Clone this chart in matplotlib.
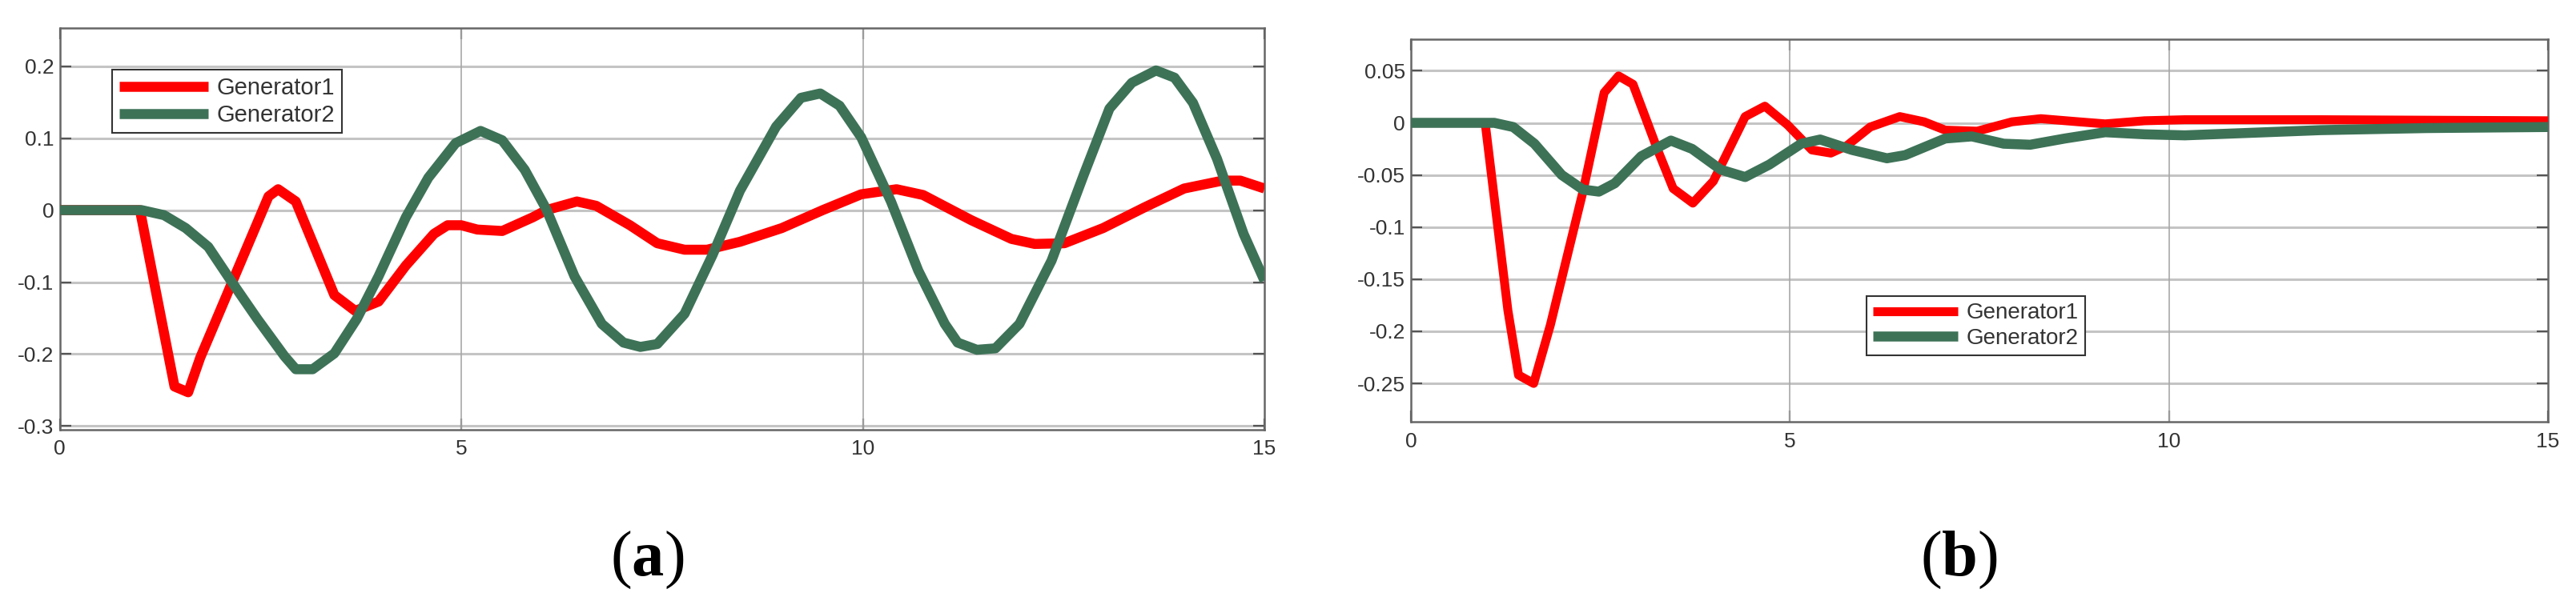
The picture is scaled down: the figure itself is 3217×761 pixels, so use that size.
import matplotlib
matplotlib.use("Agg")
import matplotlib.pyplot as plt
from matplotlib.ticker import FixedLocator, FixedFormatter

plt.rcParams['axes.unicode_minus'] = False
plt.rcParams['mathtext.fontset'] = 'custom'
plt.rcParams['mathtext.rm'] = 'Liberation Serif'
plt.rcParams['mathtext.bf'] = 'Liberation Serif:bold'

# ---------------- data ----------------
series_names = ["Generator1", "Generator2"]

# Panel (a)
a_t1 = [0, 1.0, 1.43, 1.6, 1.75, 2.6, 2.72, 2.94, 3.42, 3.68, 3.97, 4.31, 4.66, 4.83, 5.0, 5.2,
        5.51, 5.89, 6.06, 6.44, 6.68, 7.1, 7.44, 7.78, 8.06, 8.47, 8.99, 9.5, 9.98, 10.42,
        10.75, 11.35, 11.85, 12.14, 12.51, 12.99, 13.51, 14.0, 14.48, 14.7, 15.0]
a_g1 = [0, 0, -0.245, -0.253, -0.205, 0.019, 0.029, 0.012, -0.118, -0.140, -0.127, -0.077, -0.033,
        -0.021, -0.021, -0.027, -0.029, -0.010, 0.0, 0.012, 0.006, -0.021, -0.046, -0.055, -0.055,
        -0.044, -0.025, 0.0, 0.022, 0.029, 0.021, -0.014, -0.040, -0.047, -0.046, -0.025, 0.004,
        0.030, 0.041, 0.041, 0.030]
a_t2 = [0, 1.02, 1.3, 1.57, 1.85, 2.12, 2.46, 2.8, 2.94, 3.15, 3.42, 3.7, 3.97, 4.31, 4.59, 4.93,
        5.24, 5.51, 5.79, 6.06, 6.41, 6.75, 7.02, 7.23, 7.44, 7.78, 8.13, 8.47, 8.92, 9.23, 9.47,
        9.71, 9.98, 10.35, 10.69, 11.02, 11.18, 11.42, 11.65, 11.95, 12.35, 12.75, 13.07, 13.35,
        13.65, 13.88, 14.11, 14.41, 14.74, 15.0]
a_g2 = [0, 0, -0.007, -0.025, -0.051, -0.096, -0.151, -0.203, -0.221, -0.221, -0.199, -0.151,
        -0.092, -0.010, 0.045, 0.093, 0.110, 0.097, 0.056, 0.001, -0.092, -0.158, -0.184, -0.190,
        -0.186, -0.144, -0.062, 0.027, 0.116, 0.156, 0.162, 0.145, 0.101, 0.012, -0.084, -0.158,
        -0.184, -0.194, -0.192, -0.158, -0.070, 0.049, 0.141, 0.177, 0.194, 0.184, 0.149, 0.071,
        -0.033, -0.098]

# Panel (b)
b_t1 = [0, 0.98, 1.28, 1.42, 1.62, 1.84, 2.27, 2.55, 2.74, 2.93, 3.25, 3.46, 3.72, 3.99, 4.41,
        4.67, 4.97, 5.29, 5.54, 5.75, 6.06, 6.45, 6.77, 7.05, 7.47, 7.93, 8.31, 8.81, 9.16, 9.68,
        10.21, 12.0, 15.0]
b_g1 = [0, 0, -0.180, -0.242, -0.250, -0.194, -0.066, 0.029, 0.045, 0.037, -0.025, -0.063, -0.077,
        -0.056, 0.006, 0.016, -0.002, -0.026, -0.029, -0.022, -0.004, 0.006, 0.001, -0.007, -0.008,
        0.001, 0.004, 0.001, -0.001, 0.002, 0.003, 0.003, 0.002]
b_t2 = [0, 1.1, 1.35, 1.63, 1.99, 2.27, 2.48, 2.69, 3.04, 3.43, 3.71, 4.09, 4.41, 4.73, 5.15, 5.4,
        5.82, 6.28, 6.52, 7.05, 7.4, 7.82, 8.17, 8.63, 9.16, 9.68, 10.21, 12.0, 13.4, 15.0]
b_g2 = [0, 0, -0.004, -0.020, -0.050, -0.064, -0.066, -0.058, -0.032, -0.017, -0.025, -0.045,
        -0.052, -0.040, -0.020, -0.016, -0.026, -0.034, -0.031, -0.015, -0.013, -0.020, -0.021,
        -0.015, -0.009, -0.011, -0.012, -0.007, -0.005, -0.004]

x_ticks = [0, 5, 10, 15]
x_ticklabels = ["0", "5", "10", "15"]
a_yticks = [-0.3, -0.2, -0.1, 0, 0.1, 0.2]
a_yticklabels = ["-0.3", "-0.2", "-0.1", "0", "0.1", "0.2"]
b_yticks = [-0.25, -0.2, -0.15, -0.1, -0.05, 0, 0.05]
b_yticklabels = ["-0.25", "-0.2", "-0.15", "-0.1", "-0.05", "0", "0.05"]
captions = ["a", "b"]

# ---------------- style ----------------
RED = "#ff0000"
GREEN = "#3d7257"
SANS = ["Liberation Sans", "DejaVu Sans"]

fig = plt.figure(figsize=(32.17, 7.61), dpi=100)

ax_a = fig.add_axes([0.02316, 0.2944, 0.4677, 0.6597])
ax_b = fig.add_axes([0.5477, 0.3071, 0.4414, 0.6281])


def style_axes(ax, yticks, yticklabels, ylim, lw):
    ax.set_xlim(0, 15)
    ax.set_ylim(*ylim)
    ax.xaxis.set_major_locator(FixedLocator(x_ticks))
    ax.xaxis.set_major_formatter(FixedFormatter(x_ticklabels))
    ax.yaxis.set_major_locator(FixedLocator(yticks))
    ax.yaxis.set_major_formatter(FixedFormatter(yticklabels))
    for s in ax.spines.values():
        s.set_color("#666666")
        s.set_linewidth(1.8)
    ax.tick_params(direction="in", length=10, width=1.6, color="#555555",
                   top=True, right=True, labelsize=19, labelcolor="#333333")
    ax.tick_params(axis="x", pad=9)
    ax.tick_params(axis="y", pad=5)
    for lab in ax.get_xticklabels() + ax.get_yticklabels():
        lab.set_family(SANS)
    for y in yticks:
        ax.axhline(y, color="#c4c4c4", lw=2.2, zorder=0.5)
    for x in x_ticks[1:-1]:
        ax.axvline(x, color="#a8a8a8", lw=1.2, zorder=0.6)
    ax.set_axisbelow(True)


style_axes(ax_a, a_yticks, a_yticklabels, (-0.305, 0.253), 9)
style_axes(ax_b, b_yticks, b_yticklabels, (-0.287, 0.08), 9)

la1, = ax_a.plot(a_t1, a_g1, color=RED, lw=9, solid_joinstyle="round", solid_capstyle="butt",
                 label=series_names[0], zorder=3)
la2, = ax_a.plot(a_t2, a_g2, color=GREEN, lw=9, solid_joinstyle="round", solid_capstyle="butt",
                 label=series_names[1], zorder=4)
lb1, = ax_b.plot(b_t1, b_g1, color=RED, lw=8, solid_joinstyle="round", solid_capstyle="butt",
                 label=series_names[0], zorder=3)
lb2, = ax_b.plot(b_t2, b_g2, color=GREEN, lw=9, solid_joinstyle="round", solid_capstyle="butt",
                 label=series_names[1], zorder=4)

for ax, anchor, fs in [(ax_a, (0.0435, 0.896), 21), (ax_b, (0.4007, 0.329), 20)]:
    leg = ax.legend(loc="upper left", bbox_to_anchor=anchor, borderaxespad=0,
                    fancybox=False, shadow=False, framealpha=1,
                    prop={"family": SANS, "size": fs},
                    handlelength=3.8, handletextpad=0.38, labelspacing=0.2,
                    borderpad=0.3)
    leg.get_frame().set_edgecolor("#333333")
    leg.get_frame().set_linewidth(1.5)
    for t in leg.get_texts():
        t.set_color("#333333")

fig.text(808 / 3217, 1 - 699 / 761, r"$(\mathbf{%s})$" % captions[0], ha="center", va="center",
         fontsize=58)
fig.text(2446 / 3217, 1 - 699 / 761, r"$(\mathbf{%s})$" % captions[1], ha="center", va="center",
         fontsize=58)

fig.savefig("out.png", dpi=100)
